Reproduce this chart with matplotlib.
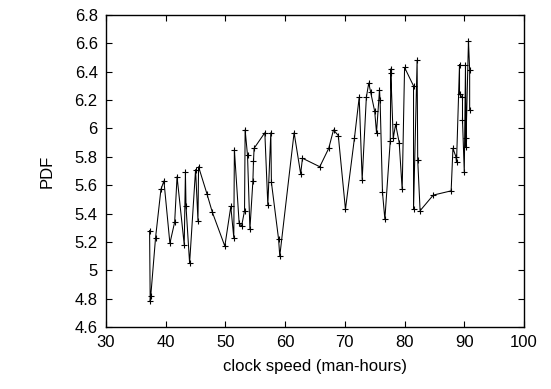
import matplotlib
matplotlib.use("Agg")
import matplotlib.pyplot as plt

# =====================================================
# =========              Data                 =========
# =====================================================

clock_speed = [
    37.3, 37.4, 37.5, 38.3, 39.2, 39.7, 40.7, 41.5, 41.9, 43.1,
    43.3, 43.4, 44.0, 45.0, 45.4, 45.5, 46.9, 47.8, 49.9, 50.9,
    51.4, 51.5, 52.3, 52.7, 53.2, 53.3, 53.7, 54.1, 54.6, 54.7,
    54.8, 56.6, 57.1, 57.6, 57.7, 58.9, 59.1, 61.5, 62.6, 62.9,
    65.8, 67.3, 68.1, 68.9, 70.1, 71.6, 72.4, 72.9, 73.6, 74.0,
    74.3, 75.0, 75.3, 75.8, 75.9, 76.3, 76.7, 77.6, 77.7, 77.7,
    78.1, 78.5, 79.1, 79.6, 80.0, 81.5, 81.5, 82.1, 82.2, 82.6,
    84.8, 87.8, 88.1, 88.6, 88.7, 89.2, 89.2, 89.7, 89.7, 90.0,
    90.2, 90.3, 90.3, 90.7, 90.9, 90.9,
]

pdf_values = [
    5.28, 4.78, 4.82, 5.23, 5.57, 5.63, 5.19, 5.34, 5.66, 5.18,
    5.69, 5.45, 5.05, 5.71, 5.35, 5.73, 5.54, 5.41, 5.17, 5.45,
    5.23, 5.85, 5.33, 5.31, 5.42, 5.99, 5.81, 5.29, 5.63, 5.77,
    5.86, 5.97, 5.46, 5.97, 5.62, 5.22, 5.10, 5.97, 5.68, 5.79,
    5.73, 5.86, 5.99, 5.95, 5.43, 5.93, 6.22, 5.64, 6.22, 6.32,
    6.26, 6.12, 5.97, 6.27, 6.20, 5.55, 5.36, 5.91, 6.42, 6.39,
    5.93, 6.03, 5.90, 5.57, 6.43, 6.30, 5.43, 6.48, 5.78, 5.42,
    5.53, 5.56, 5.86, 5.80, 5.76, 6.45, 6.24, 6.22, 6.06, 5.69,
    6.45, 5.87, 5.93, 6.62, 6.41, 6.13,
]

x_ticks = [30, 40, 50, 60, 70, 80, 90, 100]
y_ticks = [4.6, 4.8, 5.0, 5.2, 5.4, 5.6, 5.8, 6.0, 6.2, 6.4, 6.6, 6.8]
y_tick_labels = ["4.6", "4.8", "5", "5.2", "5.4", "5.6", "5.8", "6", "6.2", "6.4", "6.6", "6.8"]

# =====================================================
# =========              Plot                 =========
# =====================================================

plt.rcParams["font.family"] = ["Liberation Sans", "DejaVu Sans"]

fig = plt.figure(figsize=(5.51, 3.89), dpi=100)
ax = fig.add_axes([106 / 551, 1 - 327 / 389, 418 / 551, 312 / 389])

ax.plot(clock_speed, pdf_values, color="black", linewidth=0.75,
        marker="+", markersize=5, markeredgewidth=0.8)

ax.set_xlim(30, 100)
ax.set_ylim(4.6, 6.8)
ax.set_xticks(x_ticks)
ax.set_yticks(y_ticks)
ax.set_yticklabels(y_tick_labels)
ax.tick_params(direction="in", top=True, right=True, length=4.5, width=0.8,
               labelsize=12, pad=6)
for spine in ax.spines.values():
    spine.set_linewidth(1.0)

ax.set_xlabel("clock speed (man-hours)", fontsize=12, labelpad=6)
ax.set_ylabel("PDF", fontsize=12, labelpad=14)

fig.savefig("out.png", dpi=100)
plt.close(fig)
